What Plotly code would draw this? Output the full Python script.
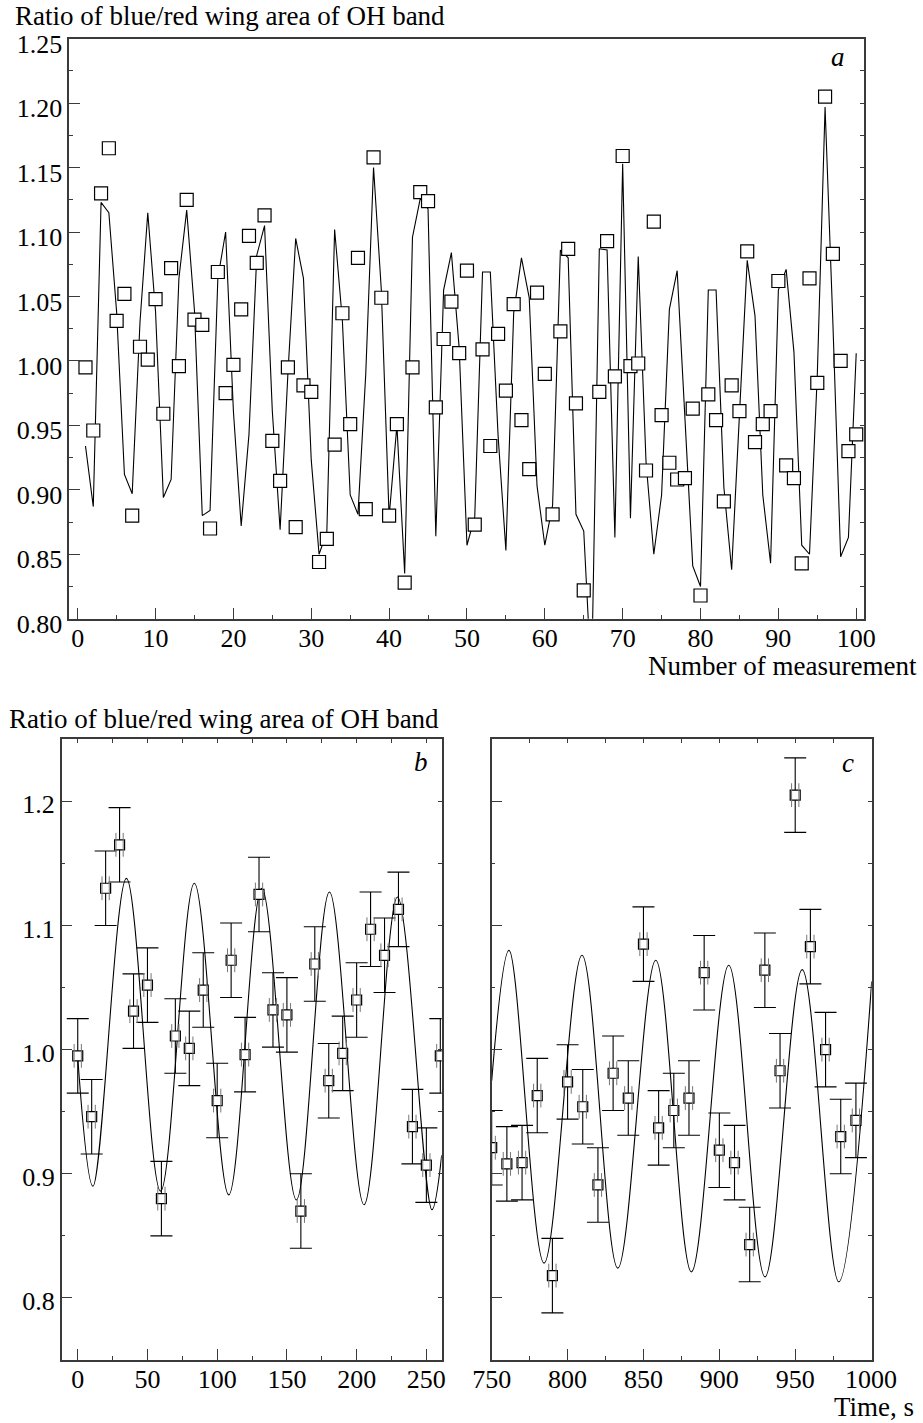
import plotly.graph_objects as go

# ---------------- data ----------------
measurement = list(range(1, 101))
ratio = [
    0.995, 0.946, 1.130, 1.165, 1.031, 1.052, 0.880, 1.011, 1.001, 1.048,
    0.959, 1.072, 0.996, 1.125, 1.032, 1.028, 0.870, 1.069, 0.975, 0.997,
    1.040, 1.097, 1.076, 1.113, 0.938, 0.907, 0.995, 0.871, 0.981, 0.976,
    0.844, 0.862, 0.935, 1.037, 0.951, 1.080, 0.885, 1.158, 1.049, 0.880,
    0.951, 0.828, 0.995, 1.131, 1.124, 0.964, 1.017, 1.046, 1.006, 1.070,
    0.873, 1.009, 0.934, 1.021, 0.977, 1.044, 0.954, 0.916, 1.053, 0.990,
    0.881, 1.023, 1.087, 0.967, 0.822, 0.780, 0.976, 1.093, 0.988, 1.159,
    0.996, 0.998, 0.915, 1.108, 0.958, 0.921, 0.908, 0.909, 0.963, 0.818,
    0.974, 0.954, 0.891, 0.981, 0.961, 1.085, 0.937, 0.951, 0.961, 1.062,
    0.919, 0.909, 0.843, 1.064, 0.983, 1.205, 1.083, 1.000, 0.930, 0.943,
]
model_line = [
    0.934, 0.887, 1.123, 1.115, 1.038, 0.912, 0.897, 1.030, 1.115, 1.038,
    0.894, 0.908, 1.064, 1.117, 1.039, 0.880, 0.884, 1.064, 1.100, 0.961,
    0.872, 0.943, 1.082, 1.105, 0.961, 0.869, 0.990, 1.095, 1.064, 0.923,
    0.850, 0.867, 1.102, 1.031, 0.896, 0.881, 0.990, 1.150, 1.055, 0.879,
    0.950, 0.835, 1.096, 1.126, 1.118, 0.864, 1.055, 1.084, 1.010, 0.857,
    0.879, 1.069, 1.069, 0.942, 0.853, 1.037, 1.080, 1.049, 0.903, 0.857,
    0.888, 1.086, 1.080, 0.881, 0.868, 0.750, 1.087, 1.086, 0.863, 1.153,
    0.878, 1.081, 0.922, 0.850, 0.896, 1.040, 1.070, 0.957, 0.841, 0.825,
    1.055, 1.055, 0.902, 0.838, 0.960, 1.078, 1.035, 0.896, 0.843, 1.055,
    1.071, 1.007, 0.857, 0.850, 0.989, 1.197, 1.030, 0.848, 0.863, 1.006,
]
ratio_err = 0.03
sample_interval_s = 10

fit_b_t = [0, 10.9, 34.9, 59.4, 83.6, 108.3, 132.0, 156.8, 180.5, 205.3, 229.3, 254.0, 261.0]
fit_b_v = [0.994, 0.890, 1.138, 0.886, 1.134, 0.883, 1.130, 0.879, 1.127, 0.875, 1.123, 0.871, 0.915]
fit_c_t = [750, 761.4, 784.5, 809.5, 833.1, 858.1, 881.6, 906.2, 930.1, 954.6, 978.7, 1000.4]
fit_c_v = [0.975, 1.080, 0.828, 1.076, 0.824, 1.072, 0.821, 1.068, 0.817, 1.0645, 0.813, 1.055]

time_s = [(n - 1) * sample_interval_s for n in measurement]

FONT = "Liberation Serif"
AX = "#3a3a3a"
W, H = 923, 1423

def px(x):
    return x / W

def py(y):
    return 1 - y / H

fig = go.Figure()

# ---------- panel a ----------
fig.add_trace(go.Scatter(x=measurement, y=model_line, mode="lines",
                         line=dict(color="black", width=1.1),
                         xaxis="x", yaxis="y", showlegend=False, hoverinfo="skip"))
fig.add_trace(go.Scatter(x=measurement, y=ratio, mode="markers",
                         marker=dict(symbol="square", size=13, color="white",
                                     line=dict(color="black", width=1.2)),
                         xaxis="x", yaxis="y", showlegend=False))

# ---------- panels b and c ----------
for xa, ya, ft, fv, dx in (("x2", "y2", fit_b_t, fit_b_v, 2.6), ("x3", "y3", fit_c_t, fit_c_v, 2.4)):
    fig.add_trace(go.Scatter(x=ft, y=fv, mode="lines", line=dict(color="black", width=1.1, shape="spline", smoothing=1.0),
                             xaxis=xa, yaxis=ya, showlegend=False, hoverinfo="skip"))
    fig.add_trace(go.Scatter(x=time_s, y=ratio, mode="markers",
                             error_y=dict(type="constant", value=ratio_err, color="black", thickness=1.1, width=11),
                             marker=dict(symbol="square", size=10, color="white",
                                         line=dict(color="black", width=1.2)),
                             xaxis=xa, yaxis=ya, showlegend=False))
    for sgn in (-1, 1):
        fig.add_trace(go.Scatter(x=[t + sgn * dx for t in time_s], y=ratio, mode="markers",
                                 marker=dict(symbol="line-ns", size=17, color="#777",
                                             line=dict(color="#777", width=1)),
                                 xaxis=xa, yaxis=ya, showlegend=False, hoverinfo="skip"))

tickfont = dict(family=FONT, size=26, color="black")

def xaxis_common(dom, rng, dtick, minor_dtick, anchor, labels=True):
    return dict(domain=dom, range=rng, anchor=anchor, showgrid=False, zeroline=False, automargin=False,
                showline=True, linecolor=AX, linewidth=1.5, mirror=True,
                ticks="inside", ticklen=11, tickwidth=1.2, tickcolor=AX,
                dtick=dtick, tick0=0, tickfont=tickfont, showticklabels=labels,
                ticklabelstandoff=-5,
                minor=dict(ticks="inside", ticklen=4, tickwidth=1, tickcolor=AX, dtick=minor_dtick, showgrid=False))

def overlay_axis(over, side, anchor, rng, dtick):
    return dict(overlaying=over, side=side, anchor=anchor, range=rng, showgrid=False, automargin=False,
                zeroline=False, showline=False, ticks="inside", ticklen=4, tickwidth=1, tickcolor=AX,
                dtick=dtick, tick0=0, showticklabels=False)

layout = dict(width=W, height=H, margin=dict(l=0, r=0, t=0, b=0, autoexpand=False),
              plot_bgcolor="white", paper_bgcolor="white", showlegend=False)

# panel a axes
layout["xaxis"] = xaxis_common([px(69.3), px(864)], [-1.08, 101.0], 10, 5, "y")
layout["yaxis"] = dict(domain=[py(618.7), py(38.7)], range=[0.80, 1.25], anchor="x", automargin=False,
                       showgrid=False, zeroline=False, showline=True, linecolor=AX, linewidth=1.5, mirror=True,
                       ticks="inside", ticklen=11, tickwidth=1.2, tickcolor=AX, dtick=0.05, tick0=0,
                       tickformat=".2f", tickfont=tickfont, ticklabelstandoff=0, ticklabelshift=5,
                       minor=dict(ticks="inside", ticklen=4, tickwidth=1, tickcolor=AX, dtick=0.025, showgrid=False))
layout["yaxis4"] = overlay_axis("y", "right", "x", [0.80, 1.25], 0.025)

# panel b axes
layout["xaxis2"] = xaxis_common([px(61.7), px(441.7)], [-11.5, 261.0], 50, 25, "y2")
layout["yaxis2"] = dict(domain=[py(1360), py(739.3)], range=[0.75, 1.25], anchor="x2", automargin=False,
                        showgrid=False, zeroline=False, showline=True, linecolor=AX, linewidth=1.5, mirror=True,
                        ticks="inside", ticklen=11, tickwidth=1.2, tickcolor=AX, dtick=0.1, tick0=0,
                        tickformat=".1f", tickfont=tickfont, ticklabelstandoff=0, ticklabelshift=3,
                        minor=dict(ticks="inside", ticklen=4, tickwidth=1, tickcolor=AX, dtick=0.05, showgrid=False))
layout["yaxis5"] = overlay_axis("y2", "right", "x2", [0.75, 1.25], 0.05)
layout["xaxis5"] = overlay_axis("x2", "top", "y2", [-11.5, 261.0], 25)

# panel c axes
layout["xaxis3"] = xaxis_common([px(491.7), px(871.7)], [750, 1000.4], 50, 25, "y3")
layout["yaxis3"] = dict(domain=[py(1360), py(739.3)], range=[0.75, 1.25], anchor="x3", automargin=False,
                        showgrid=False, zeroline=False, showline=True, linecolor=AX, linewidth=1.5, mirror=True,
                        ticks="inside", ticklen=11, tickwidth=1.2, tickcolor=AX, dtick=0.1, tick0=0,
                        showticklabels=False,
                        minor=dict(ticks="inside", ticklen=4, tickwidth=1, tickcolor=AX, dtick=0.05, showgrid=False))
layout["yaxis6"] = overlay_axis("y3", "right", "x3", [0.75, 1.25], 0.05)
layout["xaxis6"] = overlay_axis("x3", "top", "y3", [750, 1000.4], 25)

fig.update_layout(**layout)

# dummy traces so overlay axes are drawn
for xa, ya in (("x", "y4"), ("x2", "y5"), ("x5", "y2"), ("x3", "y6"), ("x6", "y3")):
    fig.add_trace(go.Scatter(x=[None], y=[None], xaxis=xa, yaxis=ya, showlegend=False, hoverinfo="skip"))

txt = dict(family=FONT, size=27, color="black")
ann = [
    dict(text="Ratio of blue/red wing area of OH band", x=px(12.7), y=py(16), xanchor="left", yanchor="middle", font=txt),
    dict(text="Number of measurement", x=px(919), y=py(666), xanchor="right", yanchor="middle", font=txt),
    dict(text="Ratio of blue/red wing area of OH band", x=px(7.3), y=py(719), xanchor="left", yanchor="middle", font=txt),
    dict(text="Time, s", x=px(916), y=py(1407), xanchor="right", yanchor="middle", font=txt),
    dict(text="<i>a</i>", x=px(838), y=py(57), xanchor="center", yanchor="middle", font=txt),
    dict(text="<i>b</i>", x=px(421), y=py(762), xanchor="center", yanchor="middle", font=txt),
    dict(text="<i>c</i>", x=px(848), y=py(763), xanchor="center", yanchor="middle", font=txt),
]
for a in ann:
    a.update(xref="paper", yref="paper", showarrow=False)
fig.update_layout(annotations=ann)

fig.write_html("out.html")
